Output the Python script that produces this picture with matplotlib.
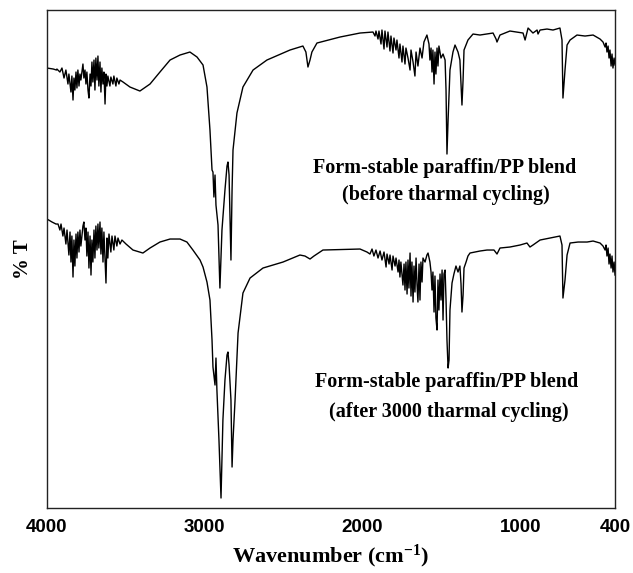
import matplotlib
matplotlib.use("Agg")
import matplotlib.pyplot as plt

# FTIR spectra: wavenumber (cm-1) and relative transmittance
before_wn = [4000, 3960, 3940, 3937, 3918, 3905, 3892, 3880, 3867, 3861, 3848, 3842, 3835, 3829,
             3823, 3816, 3810, 3804, 3797, 3791, 3785, 3772, 3766, 3759, 3753, 3747, 3740, 3734,
             3727, 3721, 3715, 3709, 3702, 3696, 3690, 3683, 3677, 3671, 3664, 3658, 3652, 3645,
             3639, 3632, 3626, 3620, 3614, 3601, 3595, 3582, 3576, 3563, 3557, 3544, 3537, 3518,
             3474, 3411, 3347, 3284, 3220, 3157, 3094, 3049, 3011, 2986, 2967, 2954, 2948, 2942,
             2935, 2929, 2916, 2904, 2891, 2872, 2859, 2853, 2846, 2834, 2827, 2821, 2796, 2758,
             2694, 2606, 2460, 2378, 2359, 2346, 2333, 2321, 2289, 2143, 2016, 1934,
             1921, 1915, 1902, 1896, 1883, 1877, 1864, 1858, 1845, 1839, 1826, 1820, 1807, 1801,
             1788, 1782, 1769, 1763, 1750, 1744, 1731, 1725, 1712, 1699, 1693, 1680, 1668, 1661,
             1649, 1636, 1623, 1611, 1592, 1579, 1573, 1566, 1560, 1554, 1547, 1541, 1535, 1528,
             1522, 1516, 1503, 1490, 1477, 1471, 1465, 1458, 1446, 1427, 1414, 1395, 1383, 1370,
             1363, 1357, 1332, 1300, 1256, 1173, 1154, 1148, 1129, 1066, 983, 970, 951, 920, 894,
             888, 875, 831, 793, 749, 736, 730, 717, 704, 685, 641, 590, 539, 495, 476, 463, 457,
             451, 444, 438, 432, 425, 419, 413, 406, 400]
before_t = [88.0, 87.8, 87.6, 87.8, 87.2, 88.0, 86.0, 87.6, 84.8, 86.8, 83.2, 86.4, 81.6, 86.0,
            83.6, 87.2, 84.0, 87.6, 84.4, 86.8, 85.6, 88.8, 86.0, 87.6, 84.8, 87.2, 83.6, 82.0,
            86.8, 84.4, 89.2, 85.2, 89.6, 83.6, 90.0, 85.6, 90.4, 84.4, 89.2, 83.2, 88.0, 84.8,
            87.2, 80.8, 86.8, 84.4, 86.4, 84.4, 86.2, 84.8, 86.4, 84.4, 86.0, 84.8, 85.6, 85.2,
            84.2, 83.4, 84.8, 87.2, 89.6, 90.6, 91.2, 90.2, 88.6, 84.2, 75.6, 67.6, 67.2, 62.2,
            66.6, 60.6, 56.6, 44.0, 55.6, 63.6, 68.4, 69.2, 66.6, 49.6, 63.6, 71.6, 79.0, 84.2,
            87.6, 89.6, 91.6, 92.4, 91.2, 88.2, 89.6, 91.2, 93.0, 94.2, 95.0, 95.2,
            94.4, 95.4, 93.8, 95.4, 92.8, 95.6, 91.8, 95.4, 92.2, 95.2, 91.4, 94.4, 91.0, 94.0,
            91.6, 93.6, 90.0, 92.8, 89.2, 92.4, 88.8, 92.0, 90.0, 87.6, 91.6, 89.2, 86.4, 91.2,
            88.4, 92.0, 90.0, 93.2, 94.6, 92.8, 89.6, 92.0, 87.2, 91.6, 84.8, 91.2, 86.8, 92.0,
            88.4, 92.4, 90.0, 90.8, 89.6, 83.6, 70.8, 77.6, 87.6, 91.2, 92.6, 91.2, 89.6, 80.6,
            85.6, 91.6, 93.6, 94.8, 94.6, 95.0, 93.8, 93.2, 94.6, 95.4, 95.0, 93.6, 96.0, 95.0, 95.6,
            94.8, 95.6, 95.8, 95.6, 96.0, 93.6, 82.0, 87.6, 92.6, 93.6, 94.6, 94.4, 94.6, 93.8, 93.2, 92.2, 93.0,
            91.2, 92.4, 90.0, 91.6, 88.4, 90.8, 88.0, 90.0, 88.6]

after_wn = [4000, 3968, 3943, 3930, 3918, 3911, 3899, 3892, 3880, 3873, 3861, 3854, 3848, 3842,
            3835, 3829, 3823, 3816, 3810, 3804, 3797, 3791, 3785, 3772, 3766, 3759, 3753, 3747,
            3740, 3734, 3727, 3721, 3715, 3709, 3702, 3696, 3690, 3683, 3677, 3671, 3664, 3658,
            3652, 3645, 3639, 3626, 3620, 3614, 3607, 3595, 3588, 3576, 3569, 3557, 3550, 3537,
            3525, 3499, 3455, 3392, 3347, 3284, 3220, 3157, 3113, 3075, 3030, 3011, 2986, 2967,
            2954, 2948, 2935, 2929, 2923, 2910, 2897, 2885, 2872, 2859, 2853, 2846, 2834, 2827,
            2821, 2808, 2789, 2758, 2713, 2631, 2504, 2397, 2365, 2333, 2308, 2251, 2016, 1972,
            1953, 1940, 1928, 1915, 1902, 1889, 1877, 1864, 1851, 1845, 1832, 1826, 1813, 1807,
            1794, 1788, 1775, 1769, 1763, 1757, 1744, 1737, 1731, 1725, 1718, 1712, 1706, 1699,
            1693, 1687, 1680, 1674, 1668, 1661, 1655, 1649, 1642, 1636, 1630, 1623, 1617, 1604,
            1592, 1585, 1573, 1566, 1560, 1554, 1547, 1541, 1535, 1528, 1522, 1516, 1509, 1503,
            1496, 1490, 1484, 1477, 1471, 1465, 1458, 1452, 1446, 1433, 1421, 1408, 1395, 1383,
            1376, 1370, 1363, 1357, 1344, 1332, 1319, 1256, 1211, 1167, 1148, 1129, 1066, 1002,
            958, 939, 920, 875, 812, 749, 736, 730, 717, 704, 685, 634, 577, 539, 495, 476, 463,
            457, 451, 444, 438, 432, 425, 419, 413, 406, 400]
after_t = [57.8, 57.2, 56.8, 56.8, 55.6, 56.8, 54.4, 56.0, 52.8, 55.6, 50.6, 55.2, 49.2, 54.4,
           46.2, 53.6, 48.4, 54.8, 50.0, 55.2, 51.2, 55.6, 52.4, 56.4, 57.2, 53.6, 56.0, 50.4,
           55.2, 48.0, 54.4, 46.6, 53.6, 49.2, 55.6, 50.0, 56.4, 51.6, 56.8, 52.0, 57.2, 50.8,
           56.0, 49.2, 55.2, 45.0, 54.0, 50.0, 54.8, 51.2, 54.4, 51.6, 54.4, 52.4, 54.0, 52.8,
           53.6, 52.8, 51.6, 51.0, 52.0, 53.2, 53.8, 53.8, 53.2, 51.6, 49.6, 48.2, 45.2, 41.6,
           33.6, 28.2, 24.6, 30.0, 23.6, 13.6, 2.0, 17.6, 25.6, 30.6, 31.2, 28.6, 21.6, 8.2,
           13.6, 21.6, 35.0, 43.0, 46.0, 48.0, 49.2, 50.6, 50.4, 49.8, 50.4, 51.6, 51.8, 51.2,
           50.8, 51.8, 50.4, 51.6, 50.0, 51.4, 49.6, 51.2, 48.2, 50.8, 48.8, 50.6, 47.6, 50.4,
           48.4, 50.0, 47.2, 49.6, 46.2, 49.2, 44.6, 48.8, 43.6, 49.2, 42.8, 49.6, 44.0, 51.0,
           42.4, 49.2, 41.2, 48.4, 43.2, 50.0, 44.8, 41.2, 48.8, 41.6, 49.2, 45.2, 50.0, 49.2,
           50.6, 51.0, 49.2, 47.2, 43.6, 47.2, 39.2, 46.4, 38.0, 35.6, 45.6, 39.6, 46.8, 41.6,
           47.6, 37.6, 46.8, 47.6, 41.6, 33.6, 28.0, 29.6, 39.6, 45.0, 46.8, 48.4, 47.2, 48.4,
           44.8, 39.2, 42.6, 48.0, 49.2, 50.4, 51.0, 51.4, 51.6, 51.6, 50.8, 52.0, 52.2, 52.6,
           53.0, 52.2, 52.6, 53.6, 54.0, 54.4, 52.6, 42.0, 45.6, 50.6, 53.0, 53.2, 53.2, 53.4, 53.0, 52.4, 51.6,
           52.6, 50.4, 52.0, 48.8, 50.8, 48.0, 50.4, 47.2, 49.2, 46.6]

x_ticks = [4000, 3000, 2000, 1000, 400]
label_name = "Form-stable paraffin/PP blend"
label_before = " (before tharmal cycling)"
label_after = "(after 3000 tharmal cycling)"

serif = ["Liberation Serif", "DejaVu Serif"]
plt.rcParams["mathtext.default"] = "regular"

fig = plt.figure(figsize=(6.33, 5.73), dpi=100)
ax = fig.add_axes([0.0742, 0.1134, 0.8974, 0.8691])

ax.plot(before_wn, before_t, color="black", lw=1.0)
ax.plot(after_wn, after_t, color="black", lw=1.0)

ax.set_xlim(4000, 400)
ax.set_ylim(0, 99.6)
ax.set_xticks(x_ticks)
ax.set_xticklabels([str(v) for v in x_ticks], family="Liberation Sans",
                   fontweight="bold", fontsize=13.5)
ax.tick_params(axis="x", length=0, pad=8)
ax.set_yticks([])
for s in ax.spines.values():
    s.set_linewidth(1.0)
    s.set_color("#222222")

ax.set_xlabel("Wavenumber (cm$^{-1}$)", family=serif, fontweight="bold",
              fontsize=16, labelpad=5)
ax.set_ylabel("% T", family=serif, fontweight="bold", fontsize=15, labelpad=10)

txt = dict(family=serif, fontweight="bold", fontsize=14.5, ha="center", va="center")
ax.text(1477, 68, label_name, **txt)
ax.text(1490, 62.6, label_before, **txt)
ax.text(1468, 25.2, label_name, **txt)
ax.text(1455, 19.2, label_after, **txt)

fig.savefig("out.png", dpi=100)
